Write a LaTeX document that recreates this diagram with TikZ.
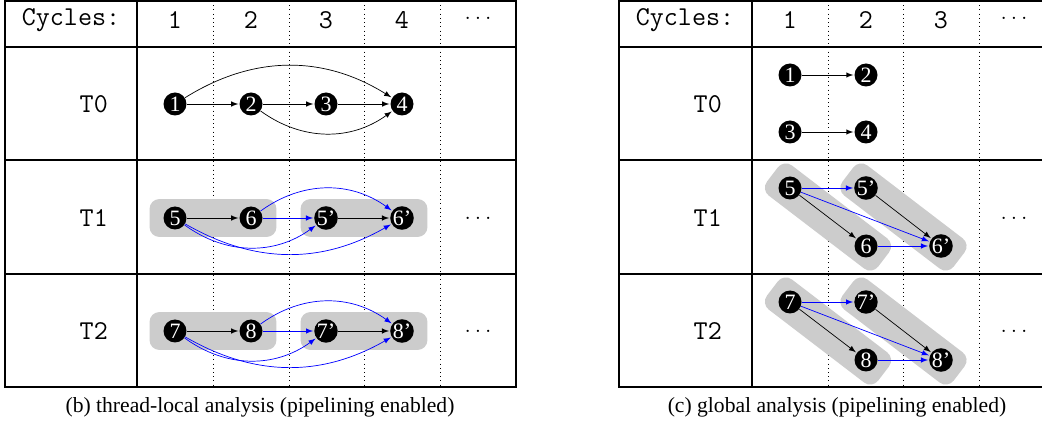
\documentclass[tikz,border=0pt]{standalone}
\usepackage{fontspec}
\setmainfont{Liberation Serif}

\begin{document}
\begin{tikzpicture}[x=0.02cm,y=-0.02cm,>=latex,shorten >=0.5pt]
	\tikzstyle{op}=[circle,fill=black,text=white,inner sep=0pt,minimum size=0.46cm,font=\fontsize{12.5}{13}\selectfont]
	\tikzstyle{grp}=[fill=black!20,rounded corners=0.2cm,inner sep=0pt,minimum height=0.76cm]
	\tikzstyle{hdr}=[font=\fontsize{15.5}{17}\selectfont\ttfamily]
	\tikzstyle{more}=[font=\fontsize{11.4}{12}\selectfont\ttfamily]
	\tikzstyle{pipe}=[->,blue]
	\tikzstyle{cyc}=[dotted]
	\tikzstyle{grid}=[line width=0.6pt]

	\clip (0,0) rectangle (1042,425);

	% (b) thread-local
	\draw[grid] (5,1) rectangle (516,387);
	\draw[grid] (5,47) -- (516,47);
	\draw[grid] (5,160) -- (516,160);
	\draw[grid] (5,274) -- (516,274);
	\draw[grid] (137,1) -- (137,387);
	\draw[cyc] (213,1) -- (213,387);
	\draw[cyc] (289,1) -- (289,387);
	\draw[cyc] (364,1) -- (364,387);
	\draw[cyc] (440,1) -- (440,387);

	\node[hdr](bcyc) at (71,20){Cycles:};
	\node[hdr](bc1) at (175,20){1};
	\node[hdr](bc2) at (251,20){2};
	\node[hdr](bc3) at (326,20){3};
	\node[hdr](bc4) at (402,20){4};
	\node[more](bcx) at (478,18){...};

	\node[hdr,anchor=east](bt0) at (114,104){T0};
	\node[hdr,anchor=east](bt1) at (114,218){T1};
	\node[hdr,anchor=east](bt2) at (114,331){T2};

	\node[grp,minimum width=2.54cm](bg1) at (213,218){};
	\node[grp,minimum width=2.54cm](bg2) at (364,218){};
	\node[grp,minimum width=2.54cm](bg3) at (213,331){};
	\node[grp,minimum width=2.54cm](bg4) at (364,331){};

	\node[op](b1) at (175,104){1};
	\node[op](b2) at (251,104){2};
	\node[op](b3) at (326,104){3};
	\node[op](b4) at (402,104){4};

	\node[op](b5) at (175,218){5};
	\node[op](b6) at (251,218){6};
	\node[op](b5p) at (326,218){5'};
	\node[op](b6p) at (402,218){6'};

	\node[op](b7) at (175,331){7};
	\node[op](b8) at (251,331){8};
	\node[op](b7p) at (326,331){7'};
	\node[op](b8p) at (402,331){8'};

	\node[more](bx1) at (478,218){...};
	\node[more](bx2) at (478,331){...};

	\draw[->] (b1) -- (b2);
	\draw[->] (b2) -- (b3);
	\draw[->] (b3) -- (b4);
	\draw[->] (b1) to[bend left=32] (b4);
	\draw[->] (b2) to[bend right=36] (b4);

	\draw[->] (b5) -- (b6);
	\draw[->] (b5p) -- (b6p);
	\draw[pipe] (b6) -- (b5p);
	\draw[pipe] (b6) to[bend left=36] (b6p);
	\draw[pipe] (b5) to[bend right=36] (b5p);
	\draw[pipe] (b5) to[bend right=30] (b6p);

	\draw[->] (b7) -- (b8);
	\draw[->] (b7p) -- (b8p);
	\draw[pipe] (b8) -- (b7p);
	\draw[pipe] (b8) to[bend left=36] (b8p);
	\draw[pipe] (b7) to[bend right=36] (b7p);
	\draw[pipe] (b7) to[bend right=30] (b8p);

	\node(bcap) at (260,407){\fontsize{12.3}{14}\selectfont (b) thread-local analysis (pipelining enabled)};

	% (c) global
	\draw[grid] (619,1) rectangle (1055,387);
	\draw[grid] (619,47) -- (1055,47);
	\draw[grid] (619,160) -- (1055,160);
	\draw[grid] (619,274) -- (1055,274);
	\draw[grid] (752,1) -- (752,387);
	\draw[cyc] (828,1) -- (828,387);
	\draw[cyc] (903,1) -- (903,387);
	\draw[cyc] (979,1) -- (979,387);

	\node[hdr](ccyc) at (685,20){Cycles:};
	\node[hdr](cc1) at (790,20){1};
	\node[hdr](cc2) at (866,20){2};
	\node[hdr](cc3) at (941,20){3};
	\node[more](ccx) at (1014,18){...};

	\node[hdr,anchor=east](ct0) at (728,104){T0};
	\node[hdr,anchor=east](ct1) at (728,218){T1};
	\node[hdr,anchor=east](ct2) at (728,331){T2};

	\node[grp,rotate=-37.4,minimum width=2.8cm](cg1) at (828,217){};
	\node[grp,rotate=-37.4,minimum width=2.8cm](cg2) at (903.5,217){};
	\node[grp,rotate=-37.4,minimum width=2.8cm](cg3) at (828,331){};
	\node[grp,rotate=-37.4,minimum width=2.8cm](cg4) at (903.5,331){};

	\node[op](c1) at (790,75){1};
	\node[op](c2) at (866,75){2};
	\node[op](c3) at (790,132){3};
	\node[op](c4) at (866,132){4};

	\node[op](c5) at (790,188){5};
	\node[op](c5p) at (866,188){5'};
	\node[op](c6) at (866,246){6};
	\node[op](c6p) at (941,246){6'};

	\node[op](c7) at (790,302){7};
	\node[op](c7p) at (866,302){7'};
	\node[op](c8) at (866,360){8};
	\node[op](c8p) at (941,360){8'};

	\node[more](cx1) at (1014,218){...};
	\node[more](cx2) at (1014,331){...};

	\draw[->] (c1) -- (c2);
	\draw[->] (c3) -- (c4);

	\draw[->] (c5) -- (c6);
	\draw[->] (c5p) -- (c6p);
	\draw[pipe] (c5) -- (c5p);
	\draw[pipe] (c5) -- (c6p);
	\draw[pipe] (c6) -- (c6p);

	\draw[->] (c7) -- (c8);
	\draw[->] (c7p) -- (c8p);
	\draw[pipe] (c7) -- (c7p);
	\draw[pipe] (c7) -- (c8p);
	\draw[pipe] (c8) -- (c8p);

	\node(ccap) at (837,407){\fontsize{12.3}{14}\selectfont (c) global analysis (pipelining enabled)};
\end{tikzpicture}
\end{document}
